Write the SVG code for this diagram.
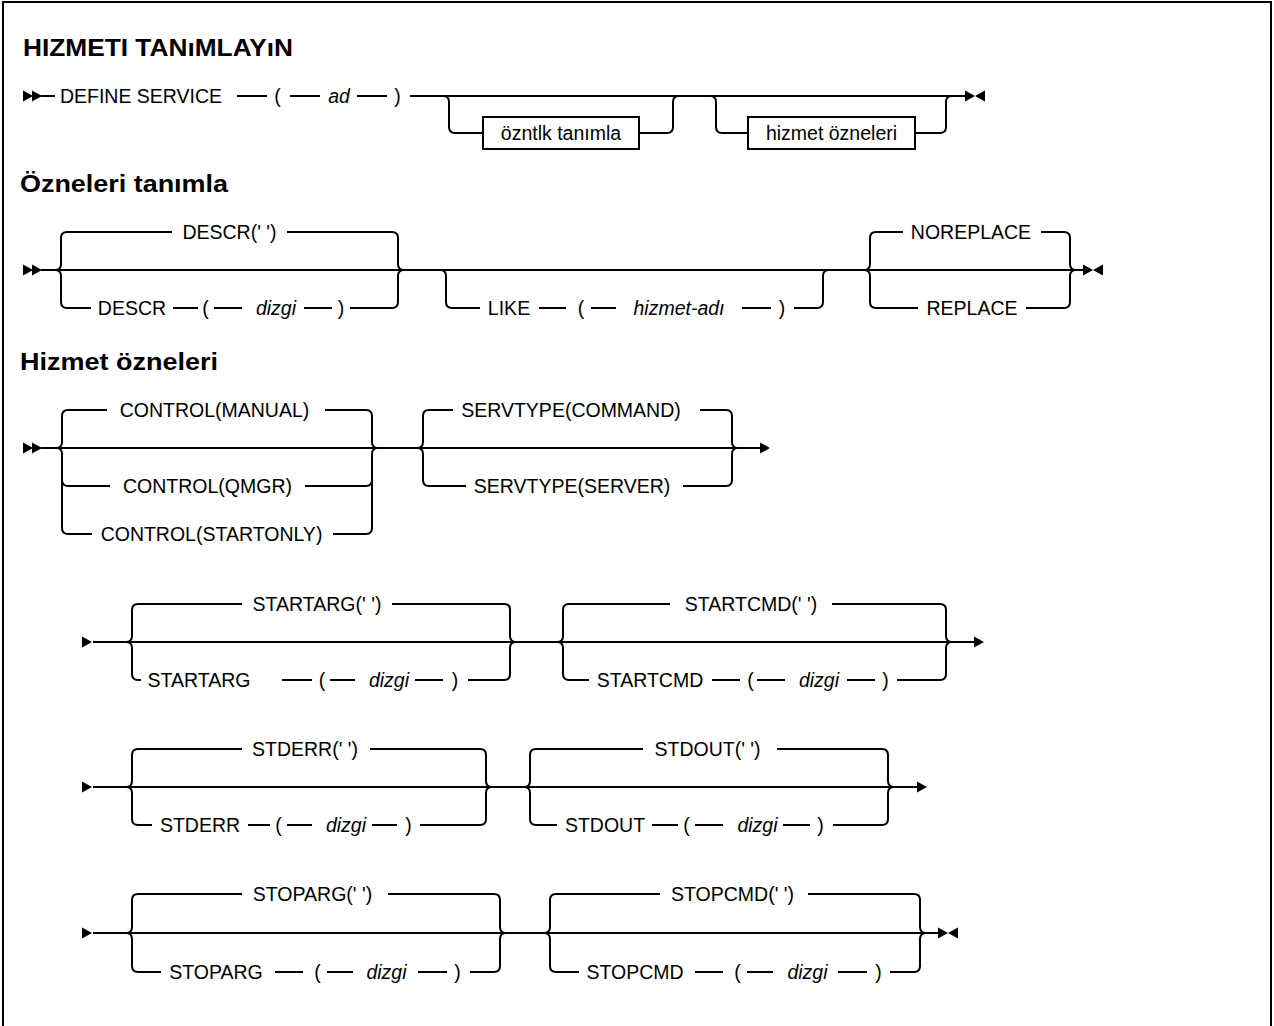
<svg xmlns="http://www.w3.org/2000/svg" xmlns:xlink="http://www.w3.org/1999/xlink" width="1274" height="1026" viewBox="0 0 1274 1026">
  <style>
    .t { font-family: "Liberation Sans", Arial, sans-serif; font-size: 19.5px; fill: #000; text-anchor: middle; }
    .v { font-style: italic; }
    .h { font-family: "Liberation Sans", Arial, sans-serif; font-size: 23px; font-weight: bold; fill: #000; }
    .ln { fill: none; stroke: #000; stroke-width: 2; }
    .box { fill: #fff; stroke: #000; stroke-width: 2; }
    .mk { fill: #000; }
  </style>
  <defs>
    <path id="ar" d="M0,-5.5 L10,0 L0,5.5 Z"/>
    <path id="al" d="M0,0 L10,-5.5 L10,5.5 Z"/>
  </defs>

  <rect x="0" y="0" width="1274" height="1026" fill="#fff"/>
  <path class="ln" d="M3,1026 V2 H1271 V1026"/>

  <!-- headings -->
  <text class="h" x="23" y="56" textLength="270" lengthAdjust="spacingAndGlyphs">HIZMETI TANıMLAYıN</text>
  <text class="h" x="20" y="192" textLength="208" lengthAdjust="spacingAndGlyphs">Özneleri tanımla</text>
  <text class="h" x="20" y="370" textLength="198" lengthAdjust="spacingAndGlyphs">Hizmet özneleri</text>

  <!-- rails and branches -->
  <g id="connectors">
    <!-- DEFINE SERVICE -->
    <path class="ln" d="M41,96 H55 M237,96 H267 M290,96 H320 M357,96 H387 M410,96 H965"/>
    <path class="ln" d="M443,96 Q449,96 449,102 V127 Q449,133 455,133 H483 M639,133 H667 Q673,133 673,127 V102 Q673,96 679,96"/>
    <path class="ln" d="M710,96 Q716,96 716,102 V127 Q716,133 722,133 H748 M915,133 H940 Q946,133 946,127 V102 Q946,96 952,96"/>

    <!-- define attributes -->
    <path class="ln" d="M41,270 H1083"/>
    <path class="ln" d="M55,270 Q61,270 61,264 V238 Q61,232 67,232 H172 M287,232 H392 Q398,232 398,238 V264 Q398,270 404,270"/>
    <path class="ln" d="M55,270 Q61,270 61,276 V302 Q61,308 67,308 H91 M173,308 H198 M214,308 H242 M304,308 H332 M350,308 H392 Q398,308 398,302 V276 Q398,270 404,270"/>
    <path class="ln" d="M440,270 Q446,270 446,276 V302 Q446,308 452,308 H480 M539,308 H566 M591,308 H616 M742,308 H771 M794,308 H817 Q823,308 823,302 V276 Q823,270 829,270"/>
    <path class="ln" d="M864,270 Q870,270 870,264 V238 Q870,232 876,232 H903 M1041,232 H1064 Q1070,232 1070,238 V264 Q1070,270 1076,270"/>
    <path class="ln" d="M864,270 Q870,270 870,276 V302 Q870,308 876,308 H918 M1026,308 H1064 Q1070,308 1070,302 V276 Q1070,270 1076,270"/>

    <!-- service attributes: CONTROL / SERVTYPE -->
    <path class="ln" d="M41,448 H760"/>
    <path class="ln" d="M56,448 Q62,448 62,442 V416 Q62,410 68,410 H107 M325,410 H366 Q372,410 372,416 V442 Q372,448 378,448"/>
    <path class="ln" d="M56,448 Q62,448 62,454 V528 Q62,534 68,534 H92 M333,534 H366 Q372,534 372,528 V454 Q372,448 378,448"/>
    <path class="ln" d="M62,480 Q62,486 68,486 H110 M305,486 H366 Q372,486 372,480"/>
    <path class="ln" d="M417,448 Q423,448 423,442 V416 Q423,410 429,410 H453 M700,410 H726 Q732,410 732,416 V442 Q732,448 738,448"/>
    <path class="ln" d="M417,448 Q423,448 423,454 V480 Q423,486 429,486 H466 M683,486 H726 Q732,486 732,480 V454 Q732,448 738,448"/>

    <!-- STARTARG / STARTCMD -->
    <path class="ln" d="M93,642 H975"/>
    <path class="ln" d="M126,642 Q132,642 132,636 V610 Q132,604 138,604 H242 M392,604 H504 Q510,604 510,610 V636 Q510,642 516,642"/>
    <path class="ln" d="M126,642 Q132,642 132,648 V674 Q132,680 138,680 H141 M282,680 H312 M330,680 H355 M415,680 H443 M468,680 H504 Q510,680 510,674 V648 Q510,642 516,642"/>
    <path class="ln" d="M557,642 Q563,642 563,636 V610 Q563,604 569,604 H670 M832,604 H940 Q946,604 946,610 V636 Q946,642 952,642"/>
    <path class="ln" d="M557,642 Q563,642 563,648 V674 Q563,680 569,680 H589 M712,680 H740 M757,680 H785 M847,680 H875 M897,680 H940 Q946,680 946,674 V648 Q946,642 952,642"/>

    <!-- STDERR / STDOUT -->
    <path class="ln" d="M93,787 H917"/>
    <path class="ln" d="M126,787 Q132,787 132,781 V755 Q132,749 138,749 H242 M370,749 H480 Q486,749 486,755 V781 Q486,787 492,787"/>
    <path class="ln" d="M126,787 Q132,787 132,793 V819 Q132,825 138,825 H152 M248,825 H270 M287,825 H312 M372,825 H397 M420,825 H480 Q486,825 486,819 V793 Q486,787 492,787"/>
    <path class="ln" d="M524,787 Q530,787 530,781 V755 Q530,749 536,749 H643 M777,749 H882 Q888,749 888,755 V781 Q888,787 894,787"/>
    <path class="ln" d="M524,787 Q530,787 530,793 V819 Q530,825 536,825 H557 M652,825 H678 M695,825 H723 M783,825 H810 M833,825 H882 Q888,825 888,819 V793 Q888,787 894,787"/>

    <!-- STOPARG / STOPCMD -->
    <path class="ln" d="M93,933 H938"/>
    <path class="ln" d="M126,933 Q132,933 132,927 V900 Q132,894 138,894 H242 M388,894 H494 Q500,894 500,900 V927 Q500,933 506,933"/>
    <path class="ln" d="M126,933 Q132,933 132,939 V966 Q132,972 138,972 H161 M275,972 H303 M327,972 H353 M418,972 H447 M470,972 H494 Q500,972 500,966 V939 Q500,933 506,933"/>
    <path class="ln" d="M544,933 Q550,933 550,927 V900 Q550,894 556,894 H660 M808,894 H914 Q920,894 920,900 V927 Q920,933 926,933"/>
    <path class="ln" d="M544,933 Q550,933 550,939 V966 Q550,972 556,972 H579 M695,972 H723 M747,972 H773 M838,972 H867 M890,972 H914 Q920,972 920,966 V939 Q920,933 926,933"/>

    <!-- start, continuation and end marks -->
    <g class="mk">
      <use xlink:href="#ar" x="23" y="96"/><use xlink:href="#ar" x="32" y="96"/>
      <use xlink:href="#ar" x="965" y="96"/><use xlink:href="#al" x="975" y="96"/>
      <use xlink:href="#ar" x="23" y="270"/><use xlink:href="#ar" x="32" y="270"/>
      <use xlink:href="#ar" x="1083" y="270"/><use xlink:href="#al" x="1093" y="270"/>
      <use xlink:href="#ar" x="23" y="448"/><use xlink:href="#ar" x="32" y="448"/>
      <use xlink:href="#ar" x="760" y="448"/>
      <use xlink:href="#ar" x="82" y="642"/><use xlink:href="#ar" x="974" y="642"/>
      <use xlink:href="#ar" x="82" y="787"/><use xlink:href="#ar" x="917" y="787"/>
      <use xlink:href="#ar" x="82" y="933"/>
      <use xlink:href="#ar" x="938" y="933"/><use xlink:href="#al" x="948" y="933"/>
    </g>
  </g>

  <!-- DEFINE SERVICE ( ad ) -->
  <g id="define-service">
    <text class="t" x="141" y="103">DEFINE SERVICE</text>
    <text class="t" x="277.5" y="103">(</text>
    <text class="t v" x="339" y="103">ad</text>
    <text class="t" x="397.5" y="103">)</text>
  </g>
  <g id="ref-define-attrs">
    <rect class="box" x="483" y="117" width="156" height="32"/>
    <text class="t" x="561" y="140">özntlk tanımla</text>
  </g>
  <g id="ref-service-attrs">
    <rect class="box" x="748" y="117" width="167" height="32"/>
    <text class="t" x="831.5" y="140">hizmet özneleri</text>
  </g>

  <!-- define attributes -->
  <g id="descr">
    <text class="t" x="229.5" y="239">DESCR(' ')</text>
    <text class="t" x="132" y="315">DESCR</text>
    <text class="t" x="205.5" y="315">(</text>
    <text class="t v" x="276" y="315">dizgi</text>
    <text class="t" x="341" y="315">)</text>
  </g>
  <g id="like">
    <text class="t" x="509" y="315">LIKE</text>
    <text class="t" x="581" y="315">(</text>
    <text class="t v" x="679" y="315">hizmet-adı</text>
    <text class="t" x="782" y="315">)</text>
  </g>
  <g id="replace">
    <text class="t" x="971" y="239">NOREPLACE</text>
    <text class="t" x="972" y="315">REPLACE</text>
  </g>

  <!-- service attributes -->
  <g id="control">
    <text class="t" x="214.5" y="417">CONTROL(MANUAL)</text>
    <text class="t" x="207.5" y="493">CONTROL(QMGR)</text>
    <text class="t" x="211.5" y="541">CONTROL(STARTONLY)</text>
  </g>
  <g id="servtype">
    <text class="t" x="571" y="417">SERVTYPE(COMMAND)</text>
    <text class="t" x="572" y="493">SERVTYPE(SERVER)</text>
  </g>
  <g id="startarg">
    <text class="t" x="317" y="611">STARTARG(' ')</text>
    <text class="t" x="199" y="687">STARTARG</text>
    <text class="t" x="322" y="687">(</text>
    <text class="t v" x="389" y="687">dizgi</text>
    <text class="t" x="455" y="687">)</text>
  </g>
  <g id="startcmd">
    <text class="t" x="751" y="611">STARTCMD(' ')</text>
    <text class="t" x="650" y="687">STARTCMD</text>
    <text class="t" x="750.5" y="687">(</text>
    <text class="t v" x="819" y="687">dizgi</text>
    <text class="t" x="885.5" y="687">)</text>
  </g>
  <g id="stderr">
    <text class="t" x="305" y="756">STDERR(' ')</text>
    <text class="t" x="200" y="832">STDERR</text>
    <text class="t" x="278.5" y="832">(</text>
    <text class="t v" x="346" y="832">dizgi</text>
    <text class="t" x="408.5" y="832">)</text>
  </g>
  <g id="stdout">
    <text class="t" x="707.5" y="756">STDOUT(' ')</text>
    <text class="t" x="605" y="832">STDOUT</text>
    <text class="t" x="686.5" y="832">(</text>
    <text class="t v" x="757.5" y="832">dizgi</text>
    <text class="t" x="820.5" y="832">)</text>
  </g>
  <g id="stoparg">
    <text class="t" x="312.5" y="901">STOPARG(' ')</text>
    <text class="t" x="216" y="979">STOPARG</text>
    <text class="t" x="317.5" y="979">(</text>
    <text class="t v" x="386.5" y="979">dizgi</text>
    <text class="t" x="457.5" y="979">)</text>
  </g>
  <g id="stopcmd">
    <text class="t" x="732.5" y="901">STOPCMD(' ')</text>
    <text class="t" x="635" y="979">STOPCMD</text>
    <text class="t" x="737.5" y="979">(</text>
    <text class="t v" x="807.5" y="979">dizgi</text>
    <text class="t" x="878.5" y="979">)</text>
  </g>
</svg>
